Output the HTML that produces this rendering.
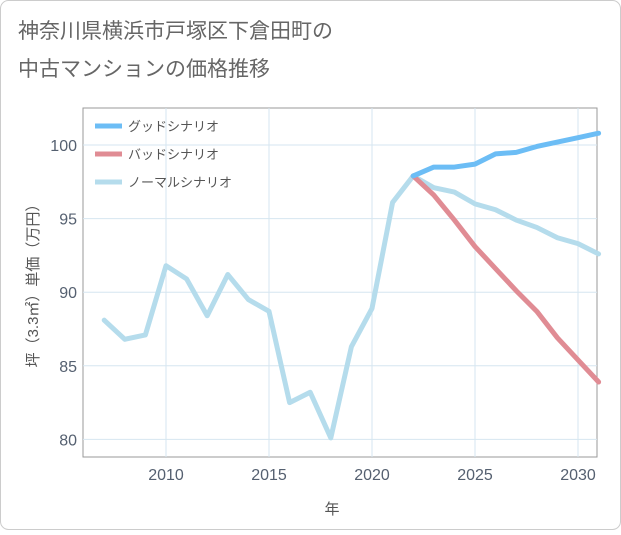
<!DOCTYPE html>
<html><head><meta charset="utf-8"><style>
body{margin:0;background:#fff;font-family:"Liberation Sans","Noto Sans CJK JP",sans-serif;}
</style></head><body>
<svg width="621" height="530" xmlns="http://www.w3.org/2000/svg" font-family="Liberation Sans, Noto Sans CJK JP, sans-serif">
<rect x="0.5" y="0.5" width="620" height="529" rx="8" fill="#fff" stroke="#ccc"/>
<text x="18" y="38" font-size="21" fill="#666">神奈川県横浜市戸塚区下倉田町の</text>
<text x="18" y="76" font-size="21" fill="#666">中古マンションの価格推移</text>
<g id="plot"></g>
<text x="332" y="514" font-size="15" fill="#555" text-anchor="middle">年</text>
<text transform="translate(38,282) rotate(-90)" font-size="15" fill="#555" text-anchor="middle">坪（3.3㎡）単価（万円）</text>
</svg>
<script>
const years=[2007,2008,2009,2010,2011,2012,2013,2014,2015,2016,2017,2018,2019,2020,2021,2022,2023,2024,2025,2026,2027,2028,2029,2030,2031];
const normal=[88.1,86.8,87.1,91.8,90.9,88.4,91.2,89.5,88.7,82.5,83.2,80.1,86.3,88.9,96.1,97.9,97.1,96.8,96.0,95.6,94.9,94.4,93.7,93.3,92.6];
const goodYears=[2022,2023,2024,2025,2026,2027,2028,2029,2030,2031];
const good=[97.9,98.5,98.5,98.7,99.4,99.5,99.9,100.2,100.5,100.8];
const bad=[97.9,96.6,94.9,93.1,91.6,90.1,88.7,86.9,85.4,83.9];
const xTicks=[2010,2015,2020,2025,2030];
const yTicks=[80,85,90,95,100];
const X0=83,X1=597,Y0=108,Y1=457;
const xs=v=>166+(v-2010)*20.6;
const ys=v=>145+(100-v)*14.72;
const ns="http://www.w3.org/2000/svg";
const g=document.getElementById('plot');
function mk(t,a){const e=document.createElementNS(ns,t);for(const k in a)e.setAttribute(k,a[k]);g.appendChild(e);return e;}
let bg=mk('rect',{x:X0,y:Y0,width:X1-X0,height:Y1-Y0,fill:'#fff',stroke:'#999'});


xTicks.forEach(t=>{let l=mk('line',{x1:xs(t),x2:xs(t),y1:Y0,y2:Y1,stroke:'#d6e6f0'});


let tx=mk('text',{x:xs(t),y:Y1+23,'font-size':16,fill:'#556070','text-anchor':'middle'});tx.textContent=t;

});
yTicks.forEach(t=>{let l=mk('line',{x1:X0,x2:X1,y1:ys(t),y2:ys(t),stroke:'#d6e6f0'});


let tx=mk('text',{x:X0-6,y:ys(t)+6,'font-size':16,fill:'#556070','text-anchor':'end'});tx.textContent=t;

});
function line(xv,yv,c,name){let p=mk('polyline',{points:xv.map((x,i)=>xs(x)+','+ys(yv[i])).join(' '),fill:'none',stroke:c,'stroke-width':5,'stroke-linejoin':'round','stroke-linecap':'round'});

}
line(years,normal,'#b5dcec','normal-scenario-line');
line(goodYears,bad,'#e08c94','bad-scenario-line');
line(goodYears,good,'#6cbdf5','good-scenario-line');
const leg=[['グッドシナリオ','#6cbdf5'],['バッドシナリオ','#e08c94'],['ノーマルシナリオ','#b5dcec']];
leg.forEach((d,i)=>{const y=126+i*28;
let l=mk('line',{x1:95,x2:122,y1:y,y2:y,stroke:d[1],'stroke-width':5});


let t=mk('text',{x:128,y:y+5,'font-size':13,fill:'#555'});t.textContent=d[0];

});
</script>
</body></html>
